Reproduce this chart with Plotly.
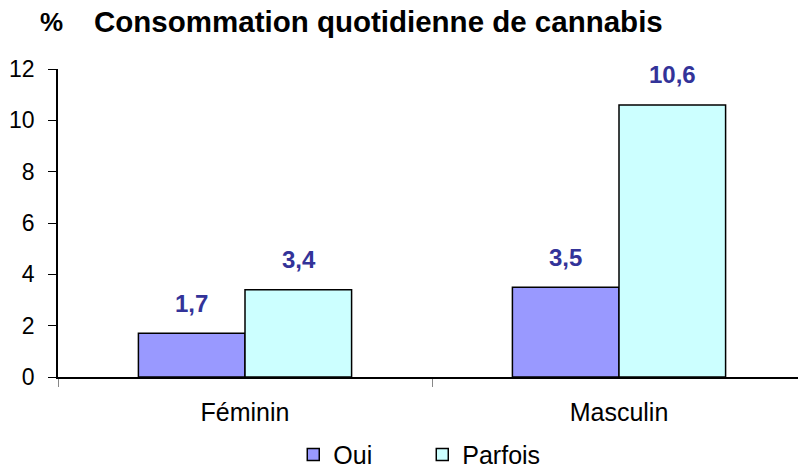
import plotly.graph_objects as go

categories = ["Féminin", "Masculin"]
oui = [1.7, 3.5]
parfois = [3.4, 10.6]
y_ticks = [0, 2, 4, 6, 8, 10, 12]

FONT = "Liberation Sans, Arial, sans-serif"

fig = go.Figure()
fig.add_trace(go.Bar(name="Oui", x=categories, y=oui,
                     marker=dict(color="#9999FF", line=dict(color="black", width=1.5))))
fig.add_trace(go.Bar(name="Parfois", x=categories, y=parfois,
                     marker=dict(color="#CCFFFF", line=dict(color="black", width=1.5))))

half = 53.5
for vals, sh in ((oui, -half), (parfois, half)):
    for c, v in zip(categories, vals):
        fig.add_annotation(x=c, y=v, xref="x", yref="y", xshift=sh, yshift=30,
                           text="<b>" + f"{v:.1f}".replace(".", ",") + "</b>", showarrow=False,
                           font=dict(family=FONT, size=24, color="#333399"))

fig.add_annotation(xref="paper", yref="paper", x=-0.027, y=1.153, xanchor="left", yanchor="middle",
                   text="<b>%</b>", showarrow=False, font=dict(family=FONT, size=26))
fig.add_annotation(xref="paper", yref="paper", x=0.045, y=1.153, xanchor="left", yanchor="middle",
                   text="<b>Consommation quotidienne de cannabis</b>", showarrow=False,
                   font=dict(family=FONT, size=29.5))

fig.update_layout(
    width=798, height=462,
    margin=dict(l=50, r=0, t=61, b=93, autoexpand=False),
    paper_bgcolor="white", plot_bgcolor="white",
    barmode="group", bargap=0.43, bargroupgap=0,
    font=dict(family=FONT, size=22, color="black"),
    showlegend=True,
    legend=dict(orientation="h", x=0.487, xanchor="center", y=-0.178, yanchor="top",
                font=dict(size=25), traceorder="normal", itemwidth=30,
                entrywidth=84, entrywidthmode="pixels"),
    xaxis=dict(showline=True, linecolor="black", linewidth=1.5, automargin=False,
               ticks="outside", tickson="boundaries", ticklen=8, tickcolor="#888",
               tickfont=dict(size=25), showgrid=False, ticklabelstandoff=12),
    yaxis=dict(range=[0, 12], tickvals=y_ticks, showline=True, linecolor="black", linewidth=1.5,
               ticks="outside", ticklen=8, tickcolor="black", showgrid=False, zeroline=False,
               tickfont=dict(size=23), automargin=False, ticklabelstandoff=9),
)

fig.write_html("out.html")
